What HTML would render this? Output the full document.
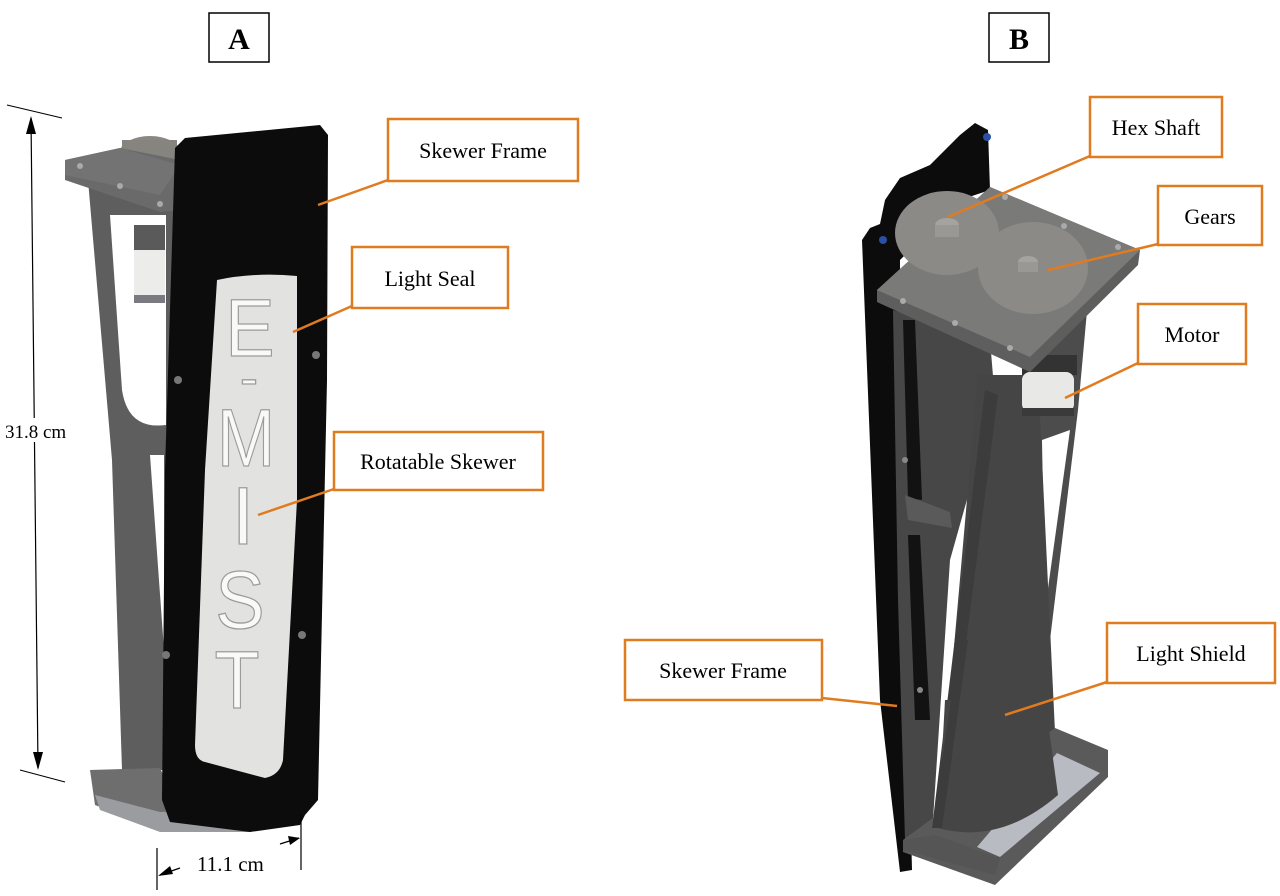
<!DOCTYPE html>
<html><head><style>
body{margin:0;background:#fff;}
svg{display:block}
text{font-family:"Liberation Serif",serif;}
text.sans{font-family:"Liberation Sans",sans-serif;}
</style></head><body>
<svg width="1280" height="896" viewBox="0 0 1280 896" xmlns="http://www.w3.org/2000/svg">
<rect width="1280" height="896" fill="#fff"/>
<rect x="209" y="13" width="60" height="49" fill="#fff" stroke="#000" stroke-width="1.5"/>
<text x="239" y="49" font-size="30" font-weight="bold" text-anchor="middle">A</text>
<rect x="989" y="13" width="60" height="49" fill="#fff" stroke="#000" stroke-width="1.5"/>
<text x="1019" y="49" font-size="30" font-weight="bold" text-anchor="middle">B</text>

<!-- Device A -->
<g>
<ellipse cx="150" cy="152" rx="30" ry="16" fill="#8a8884"/>
<rect x="122" y="140" width="55" height="20" fill="#86847f"/>
<path d="M88,180 L175,200 L172,770 L122,770 L112,460 Z" fill="#5e5e5e"/>
<path d="M110,215 L166,215 L166,425 Q128,430 122,390 Z" fill="#fff"/>
<path d="M150,455 L164,455 L164,650 Z" fill="#fff"/>
<polygon points="65,160 120,148 180,160 180,210 160,212 65,180" fill="#6a6a6a"/>
<polygon points="65,160 120,148 180,165 160,195 65,175" fill="#737373"/>
<circle cx="80" cy="166" r="3" fill="#aaa"/><circle cx="120" cy="186" r="3" fill="#aaa"/><circle cx="160" cy="204" r="3" fill="#aaa"/>
<rect x="134" y="225" width="31" height="25" fill="#5a5a5a"/>
<rect x="134" y="250" width="31" height="47" fill="#ececea"/>
<rect x="134" y="295" width="31" height="8" fill="#7a7a80"/>
<polygon points="90,770 160,768 170,790 300,795 300,820 160,830 95,805" fill="#6e6e6e"/>
<polygon points="95,795 160,812 300,808 300,822 250,832 160,832 100,810" fill="#9a9ca0"/>
<path d="M175,148 L185,138 L320,125 L328,135 L327,380 L318,800 L305,815 L300,825 L250,832 L170,822 L162,800 L165,470 Z" fill="#0c0c0c"/>
<circle cx="178" cy="380" r="4" fill="#777"/><circle cx="316" cy="355" r="4" fill="#777"/>
<circle cx="166" cy="655" r="4" fill="#777"/><circle cx="302" cy="635" r="4" fill="#777"/>
<path d="M217,280 Q255,272 297,276 L297,500 L283,760 Q280,775 265,778 L205,762 Q195,760 195,745 L205,470 Z" fill="#e2e2e0"/>
<g font-size="82" fill="#f9f9f7" stroke="#9c9c9a" stroke-width="1.3" text-anchor="middle">
<text class="sans" x="250" y="356" transform="translate(250 0) scale(0.9 1) translate(-250 0)">E</text>
<text class="sans" x="249" y="396" font-size="54">-</text>
<text class="sans" x="246" y="466" transform="translate(246 0) scale(0.85 1) translate(-246 0)">M</text>
<text class="sans" x="243" y="544">I</text>
<text class="sans" x="240" y="628" transform="translate(240 0) scale(0.9 1) translate(-240 0)">S</text>
<text class="sans" x="237" y="708" transform="translate(237 0) scale(0.9 1) translate(-237 0)">T</text>
</g>
<line x1="7" y1="105" x2="62" y2="118" stroke="#000"/>
<line x1="20" y1="770" x2="65" y2="782" stroke="#000"/>
<line x1="31" y1="118" x2="38" y2="768" stroke="#000" stroke-width="1.2"/>
<polygon points="31,116 26,134 36,134" fill="#000"/>
<polygon points="38,770 33,752 43,752" fill="#000"/>
<rect x="4" y="418" width="66" height="24" fill="#fff"/>
<text x="5" y="438" font-size="19">31.8 cm</text>
<line x1="157" y1="848" x2="157" y2="890" stroke="#000" stroke-width="1.2"/>
<line x1="301" y1="815" x2="301" y2="870" stroke="#000" stroke-width="1.2"/>
<line x1="180" y1="868" x2="160" y2="875" stroke="#000" stroke-width="1.2"/>
<polygon points="158,876 170,866 173,874" fill="#000"/>
<line x1="280" y1="844" x2="299" y2="838" stroke="#000" stroke-width="1.2"/>
<polygon points="300,838 288,836 290,845" fill="#000"/>
<text x="197" y="871" font-size="21">11.1 cm</text>
</g>

<!-- Device B -->
<g>
<path d="M862,240 L870,228 L880,224 L885,200 L900,178 L930,165 L960,135 L975,123 L988,130 L990,190 L960,200 L900,260 L900,400 L912,870 L900,872 L880,700 Z" fill="#0c0c0c"/>
<circle cx="883" cy="240" r="4" fill="#2b4fa5"/>
<circle cx="987" cy="137" r="4" fill="#2b4fa5"/>
<polygon points="1040,300 1088,300 1078,410 1050,640 1035,640 1035,400" fill="#4c4c4c"/>
<polygon points="1042,440 1070,430 1045,610" fill="#fff"/>
<polygon points="893,310 990,340 995,400 950,560 932,835 905,840 898,600" fill="#474747"/>
<path d="M978,375 L1038,375 L1058,795 Q1000,845 938,828 Z" fill="#454545"/>
<polygon points="985,390 998,395 942,828 932,828" fill="#3c3c3c"/>
<polygon points="903,320 915,320 922,500 908,498" fill="#121212"/>
<polygon points="908,535 920,535 930,720 915,720" fill="#121212"/>
<polygon points="905,495 950,512 952,528 908,520" fill="#5a5a5a"/>
<circle cx="905" cy="460" r="3" fill="#888"/><circle cx="920" cy="690" r="3" fill="#888"/>
<rect x="1022" y="355" width="55" height="20" fill="#333"/>
<rect x="1022" y="372" width="52" height="40" rx="8" fill="#e8e8e6"/>
<rect x="1022" y="408" width="52" height="8" fill="#3a3a3a"/>
<polygon points="877,290 990,187 1140,250 1138,265 1030,372 877,302" fill="#5e5e5e"/>
<polygon points="877,290 990,187 1140,250 1030,357" fill="#7a7a78"/>
<ellipse cx="947" cy="233" rx="52" ry="42" fill="#8c8a86"/>
<ellipse cx="1033" cy="268" rx="55" ry="46" fill="#8c8a86"/>
<ellipse cx="947" cy="225" rx="12" ry="7" fill="#a5a39f"/>
<rect x="935" y="225" width="24" height="12" fill="#9a9894"/>
<ellipse cx="1028" cy="262" rx="10" ry="6" fill="#a5a39f"/>
<rect x="1018" y="262" width="20" height="10" fill="#9a9894"/>
<circle cx="1005" cy="197" r="3" fill="#aaa"/><circle cx="1064" cy="226" r="3" fill="#aaa"/>
<circle cx="1118" cy="247" r="3" fill="#aaa"/><circle cx="903" cy="301" r="3" fill="#aaa"/>
<circle cx="955" cy="323" r="3" fill="#aaa"/><circle cx="1010" cy="348" r="3" fill="#aaa"/>
<polygon points="903,840 1055,728 1108,750 1108,777 995,885 903,852" fill="#5a5a5a"/>
<polygon points="977,847 1057,753 1100,773 1000,857" fill="#b8bbc2"/>
<polygon points="903,840 935,835 1000,858 995,875 903,850" fill="#555"/>
<path d="M1045,700 L1058,795 Q1000,845 938,828 L945,700 Z" fill="#454545"/>
<polygon points="960,640 968,640 942,828 932,828" fill="#3c3c3c"/>
</g>

<g stroke="#e07b20" stroke-width="2.5">
<line x1="388" y1="180" x2="318" y2="205"/>
<line x1="352" y1="306" x2="293" y2="332"/>
<line x1="334" y1="489" x2="258" y2="515"/>
<line x1="1090" y1="156" x2="948" y2="217"/>
<line x1="1158" y1="244" x2="1048" y2="270"/>
<line x1="1138" y1="363" x2="1065" y2="398"/>
<line x1="822" y1="698" x2="897" y2="706"/>
<line x1="1107" y1="682" x2="1005" y2="715"/>
</g>
<g fill="#fff" stroke="#e07b20" stroke-width="2.5">
<rect x="388" y="119" width="190" height="62"/>
<rect x="352" y="247" width="156" height="61"/>
<rect x="334" y="432" width="209" height="58"/>
<rect x="1090" y="97" width="132" height="60"/>
<rect x="1158" y="186" width="104" height="59"/>
<rect x="1138" y="304" width="108" height="60"/>
<rect x="625" y="640" width="197" height="60"/>
<rect x="1107" y="623" width="168" height="60"/>
</g>
<g font-size="22" text-anchor="middle">
<text x="483" y="158">Skewer Frame</text>
<text x="430" y="286">Light Seal</text>
<text x="438" y="469">Rotatable Skewer</text>
<text x="1156" y="135">Hex Shaft</text>
<text x="1210" y="224">Gears</text>
<text x="1192" y="342">Motor</text>
<text x="723" y="678">Skewer Frame</text>
<text x="1191" y="661">Light Shield</text>
</g>
</svg>
</body></html>
